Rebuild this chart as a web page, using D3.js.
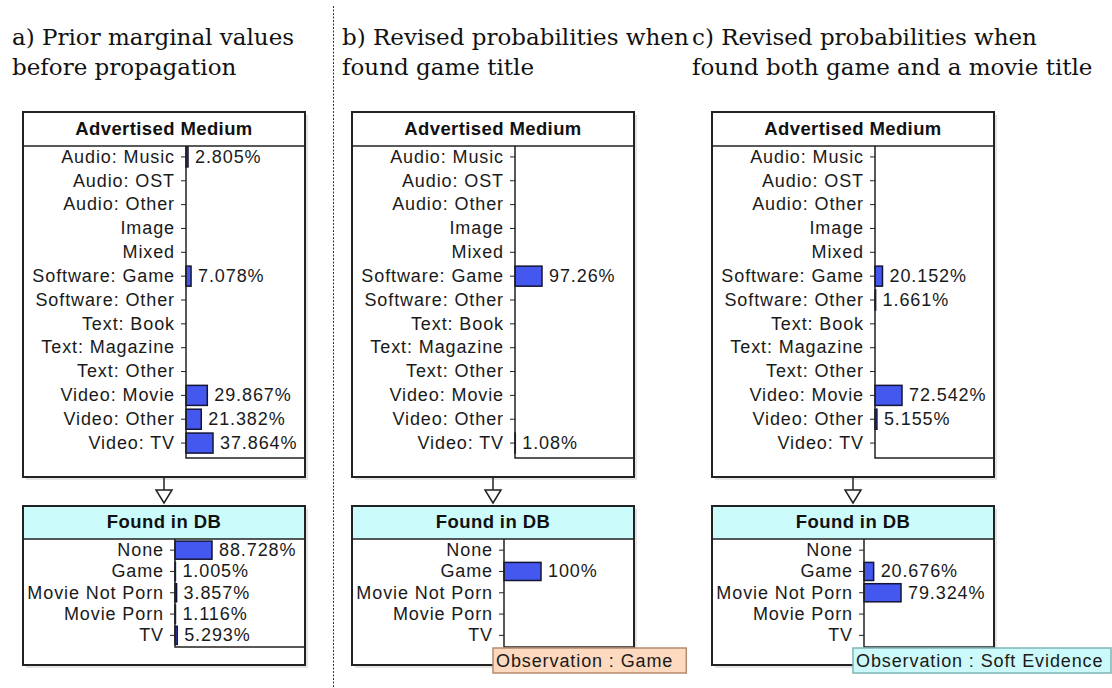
<!DOCTYPE html>
<html><head><meta charset="utf-8">
<script src="https://cdn.jsdelivr.net/npm/d3@7"></script>
<style>
html,body{margin:0;padding:0;background:#fff;}
svg{display:block;}
</style></head>
<body>
<svg id="chart" width="1112" height="688"></svg>
<script>
// ---- data ----
const titlesLine1 = ["a) Prior marginal values", "b) Revised probabilities when", "c) Revised probabilities when"];
const titlesLine2 = ["before propagation", "found game title", "found both game and a movie title"];
const mediumCategories = ["Audio: Music","Audio: OST","Audio: Other","Image","Mixed","Software: Game","Software: Other","Text: Book","Text: Magazine","Text: Other","Video: Movie","Video: Other","Video: TV"];
const mediumPrior   = [2.805, null, null, null, null, 7.078, null, null, null, null, 29.867, 21.382, 37.864];
const mediumGame    = [null, null, null, null, null, 97.26, null, null, null, null, null, null, 1.08];
const mediumBoth    = [null, null, null, null, null, 20.152, 1.661, null, null, null, 72.542, 5.155, null];
const dbCategories  = ["None","Game","Movie Not Porn","Movie Porn","TV"];
const dbPrior       = [88.728, 1.005, 3.857, 1.116, 5.293];
const dbGame        = [null, 100, null, null, null];
const dbBoth        = [null, 20.676, 79.324, null, null];
const observations  = [null, "Observation : Game", "Observation : Soft Evidence"];
const nodeTitles    = ["Advertised Medium", "Found in DB"];

const panels = [
  {left: 23, title: 0, medium: mediumPrior, db: dbPrior, obs: observations[0]},
  {left: 352, title: 1, medium: mediumGame, db: dbGame, obs: observations[1]},
  {left: 712, title: 2, medium: mediumBoth, db: dbBoth, obs: observations[2]}
];

const svg = d3.select("#chart");
const W = 282;
const font = "'Liberation Sans', Arial, sans-serif";
const obsFill = [null, "#fdd9bf", "#ccf9f9"];
const obsStroke = [null, "#b48a6e", "#7fb5b5"];

// separator
svg.append("line").attr("x1", 333.5).attr("x2", 333.5).attr("y1", 6).attr("y2", 688)
  .attr("stroke", "#333").attr("stroke-width", 1).attr("stroke-dasharray", "2,1.5");

const titleX = [12, 342, 692];
panels.forEach((p, i) => {
  const g = svg.append("g");
  [titlesLine1[i], titlesLine2[i]].forEach((t, k) => {
    g.append("text").attr("x", titleX[i]).attr("y", 45 + k * 30)
      .attr("font-family", "'DejaVu Serif', serif").attr("font-size", 23)
      .attr("fill", "#111").text(t);
  });
});

function drawNode(p, cfg) {
  const g = svg.append("g");
  const L = p.left;
  // shadow
  g.append("rect").attr("x", L + 3).attr("y", cfg.top + 3).attr("width", W).attr("height", cfg.bottom - cfg.top)
    .attr("fill", "#e4e4e4");
  g.append("rect").attr("x", L).attr("y", cfg.top).attr("width", W).attr("height", cfg.bottom - cfg.top)
    .attr("fill", "#fff");
  g.append("rect").attr("x", L).attr("y", cfg.top).attr("width", W).attr("height", cfg.header)
    .attr("fill", cfg.headerFill);
  g.append("text").attr("x", L + W / 2).attr("y", cfg.top + cfg.header / 2 + 1)
    .attr("text-anchor", "middle").attr("dominant-baseline", "middle")
    .attr("font-family", font).attr("font-weight", "bold").attr("font-size", 18.5)
    .attr("letter-spacing", 0.4).attr("fill", "#111").text(cfg.title);

  const ax = L + cfg.axisOff;
  const y = d3.scaleBand().domain(cfg.cats).range([cfg.rowTop, cfg.rowBottom]).paddingInner(cfg.pad).paddingOuter(cfg.pad / 2);
  const vals = cfg.values.map(v => v == null ? 0 : v);
  const x = d3.scaleLinear().domain([0, d3.max(vals)]).range([0, cfg.maxBar]);

  // axis
  const axis = d3.axisLeft(y).tickSize(5).tickPadding(6);
  const ag = g.append("g").attr("transform", `translate(${ax},0)`).call(axis);
  ag.select(".domain").remove();
  ag.selectAll("line").attr("stroke", "#222");
  ag.selectAll("text").attr("font-family", font).attr("font-size", 18).attr("letter-spacing", 0.9)
    .attr("fill", "#1a1a1a").attr("dx", 0);

  // bars
  g.selectAll("rect.bar").data(cfg.cats.map((c, j) => ({c, v: cfg.values[j]})).filter(d => d.v != null))
    .join("rect").attr("class", "bar")
    .attr("x", ax).attr("y", d => y(d.c)).attr("width", d => Math.max(x(d.v), 0.01)).attr("height", y.bandwidth())
    .attr("fill", "#4457ee").attr("stroke", "#141436").attr("stroke-width", 1.5);
  g.selectAll("text.val").data(cfg.cats.map((c, j) => ({c, v: cfg.values[j]})).filter(d => d.v != null))
    .join("text").attr("class", "val")
    .attr("x", d => ax + x(d.v) + 7).attr("y", d => y(d.c) + y.bandwidth() / 2 + 1)
    .attr("dominant-baseline", "middle").attr("font-family", font).attr("font-size", 18)
    .attr("letter-spacing", 0.9).attr("fill", "#1a1a1a").text(d => d.v + "%");

  // inner frame
  g.append("path").attr("d", `M${ax},${cfg.top + cfg.header}V${cfg.innerBottom}H${L + W}`)
    .attr("fill", "none").attr("stroke", "#222").attr("stroke-width", 1.5);
  // outer border
  g.append("rect").attr("x", L).attr("y", cfg.top).attr("width", W).attr("height", cfg.bottom - cfg.top)
    .attr("fill", "none").attr("stroke", "#222").attr("stroke-width", 2);
  g.append("line").attr("x1", L).attr("x2", L + W).attr("y1", cfg.top + cfg.header).attr("y2", cfg.top + cfg.header)
    .attr("stroke", "#222").attr("stroke-width", 1.5);
}

panels.forEach((p, i) => {
  drawNode(p, {top: 112, bottom: 477, header: 34, title: nodeTitles[0], headerFill: "#fff",
    cats: mediumCategories, values: p.medium, rowTop: 145, rowBottom: 455, pad: 0.16,
    axisOff: 163, innerBottom: 458, maxBar: 27});
  drawNode(p, {top: 506, bottom: 665, header: 33, title: nodeTitles[1], headerFill: "#ccfbfb",
    cats: dbCategories, values: p.db, rowTop: 539.5, rowBottom: 646, pad: 0.15,
    axisOff: 152, innerBottom: 647, maxBar: 37});
  // arrow
  const cx = p.left + W / 2;
  svg.append("line").attr("x1", cx).attr("x2", cx).attr("y1", 477).attr("y2", 490)
    .attr("stroke", "#222").attr("stroke-width", 1.5);
  svg.append("path").attr("d", `M${cx - 8},${490}L${cx + 8},${490}L${cx},${503}Z`)
    .attr("fill", "#fff").attr("stroke", "#222").attr("stroke-width", 1.5);
  // observation
  if (p.obs) {
    const og = svg.append("g");
    const r = og.append("rect").attr("x", cx).attr("y", 648).attr("height", 25)
      .attr("fill", obsFill[i]).attr("stroke", obsStroke[i]).attr("stroke-width", 1.5);
    const t = og.append("text").attr("x", cx + 3).attr("y", 662).attr("dominant-baseline", "middle")
      .attr("font-family", font).attr("font-size", 18).attr("letter-spacing", 0.9).attr("fill", "#1a1a1a").text(p.obs);
    const tw = t.node().getComputedTextLength();
    r.attr("width", Math.min(tw + 16, 1111 - cx));
  }
});
</script>
</body></html>
